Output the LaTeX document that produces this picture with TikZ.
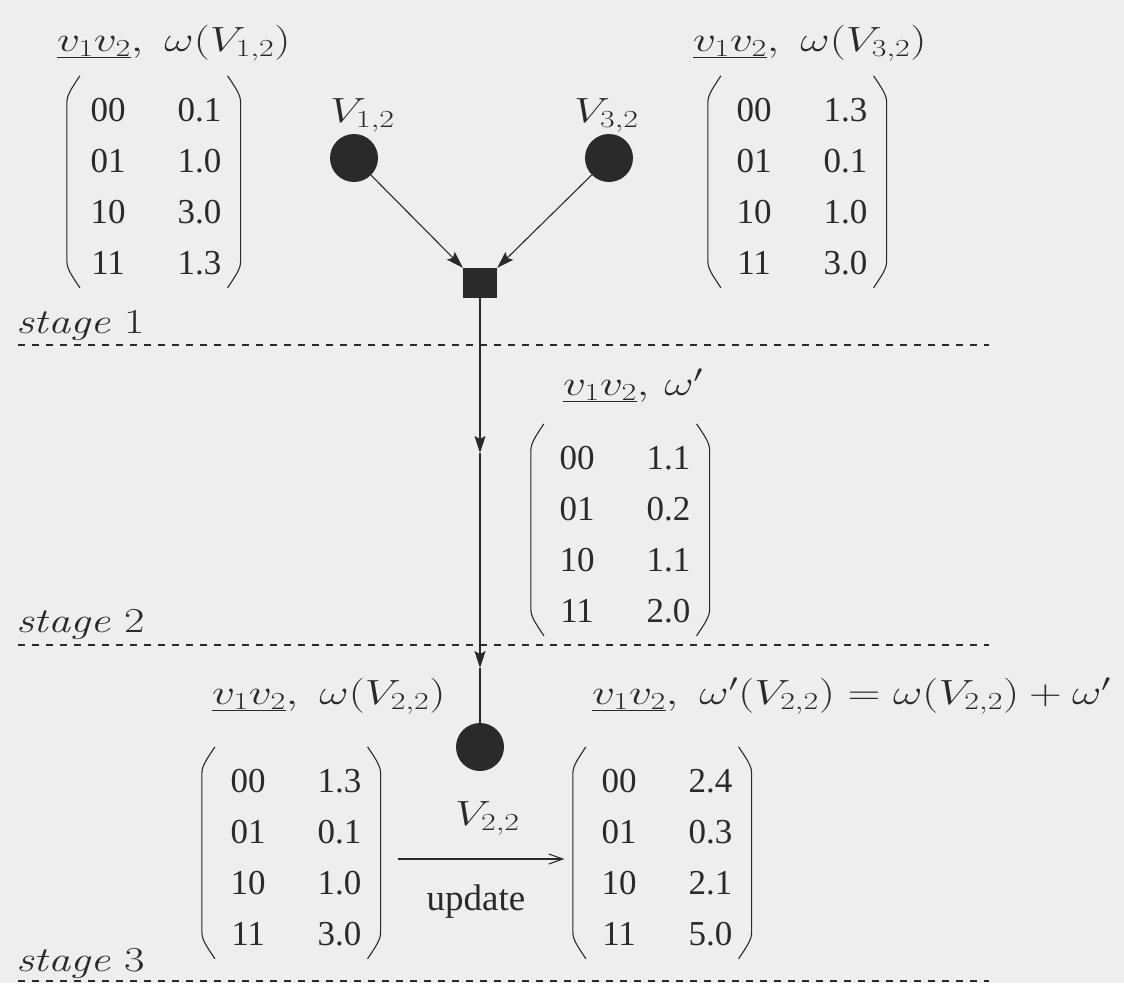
\RequirePackage{fix-cm}
\documentclass[tikz,border=0pt]{standalone}
\usepackage{graphicx}
\usepackage{fontspec}
\newfontfamily\tms{Liberation Serif}
\usetikzlibrary{arrows.meta}
\definecolor{bg}{RGB}{238,238,238}
\definecolor{ink}{RGB}{42,42,42}
\newcommand\wm[1]{\scalebox{1.3}[1]{$#1$}}
\newcommand\stg[1]{\scalebox{1.27}[1]{{\itshape stage} #1}}
\newcommand\wtab[4]{\renewcommand\arraystretch{1.275}\begin{tabular}{@{}c@{\hspace{52pt}}c@{}}00&#1\\01&#2\\10&#3\\11&#4\end{tabular}}
\newcommand\parens[2][0]{%
  \draw[paren] (#2.north west) ++(-15.5+#1,-10) .. controls +(-8,12) and +(0,-7) .. ++(-13,26) -- ++(0,160) .. controls +(0,7) and +(-8,-12) .. ++(13,26);
  \draw[paren] (#2.north east) ++(6,-10) .. controls +(8,12) and +(0,-7) .. ++(13,26) -- ++(0,160) .. controls +(0,7) and +(8,-12) .. ++(-13,26);
}
\tikzset{
  every node/.style={text=ink, inner sep=0pt},
  lbl/.style={font=\fontsize{35}{42}\selectfont, anchor=base west},
  tab/.style={font=\fontsize{35}{40}\selectfont\tms},
  txt/.style={font=\fontsize{37}{42}\selectfont\tms, anchor=base},
  paren/.style={draw=ink, line width=1.1pt},
  vert/.style={circle, fill=ink, minimum size=48pt},
  fac/.style={rectangle, fill=ink, minimum width=34pt, minimum height=30pt},
  conn/.style={draw=ink, line width=1.1pt, -{Stealth[length=17pt,width=11pt,inset=3pt]}},
  plain/.style={draw=ink, line width=1.1pt},
  upd/.style={draw=ink, line width=1.1pt, -{Straight Barb[length=14pt,width=10pt]}},
  stageline/.style={draw=ink, line width=1.1pt, dash pattern=on 7pt off 7pt},
  stagetext/.style={font=\fontsize{35}{42}\selectfont, anchor=base west},
}
\begin{document}
\begin{tikzpicture}[x=1pt,y=-1pt]
\fill[bg] (0,0) rectangle (1124,983);
\useasboundingbox (0,0) rectangle (1124,983);

% stage separators
\node[stagetext] (s1) at (16,333) {\stg{1}};
\node[stagetext] (s2) at (16,632) {\stg{2}};
\node[stagetext] (s3) at (16,971) {\stg{3}};
\draw[stageline] (18,345) -- (989,345);
\draw[stageline] (18,645) -- (989,645);
\draw[stageline] (18,981) -- (989,981);

% graph nodes
\node[vert] (v12) at (354,158) {};
\node[vert] (v32) at (609,158) {};
\node[fac] (f) at (480,283) {};
\node[vert] (v22) at (480,747) {};
\node[lbl] (l12) at (330,122) {\wm{V_{1,2}}};
\node[lbl] (l32) at (574,122) {\wm{V_{3,2}}};
\node[lbl] (l22) at (455,825) {\wm{V_{2,2}}};

\coordinate (a1) at (480,453);
\coordinate (a2) at (480,668);
\draw[conn] (v12) -- (f.north west);
\draw[conn] (v32) -- (f.north east);
\draw[conn] (f.south) -- (a1);
\draw[conn] (a1) -- (a2);
\draw[plain] (a2) -- (v22.north);

% tables
\node[lbl] (t1) at (57,51) {\wm{\underline{v_1v_2},\ \omega(V_{1,2})}};
\node[tab] (m1) at (156,188) {\wtab{0.1}{1.0}{3.0}{1.3}};
\parens[5]{m1}
\node[lbl] (t2) at (693,51) {\wm{\underline{v_1v_2},\ \omega(V_{3,2})}};
\node[tab] (m2) at (802,188) {\wtab{1.3}{0.1}{1.0}{3.0}};
\parens{m2}
\node[lbl] (t3) at (563,395) {\wm{\underline{v_1v_2},\,\omega'}};
\node[tab] (m3) at (625,536) {\wtab{1.1}{0.2}{1.1}{2.0}};
\parens{m3}
\node[lbl] (t4) at (212,704) {\wm{\underline{v_1v_2},\ \omega(V_{2,2})}};
\node[tab] (m4) at (296,859) {\wtab{1.3}{0.1}{1.0}{3.0}};
\parens{m4}
\node[lbl] (t5) at (592,704) {\wm{\underline{v_1v_2},\ \omega'(V_{2,2})=\omega(V_{2,2})+\omega'}};
\node[tab] (m5) at (667,859) {\wtab{2.4}{0.3}{2.1}{5.0}};
\parens{m5}

\draw[upd, shorten <=36pt, shorten >=37pt] (m4.east) -- (m5.west);
\node[txt] (u) at (476,910) {update};
\end{tikzpicture}
\end{document}
